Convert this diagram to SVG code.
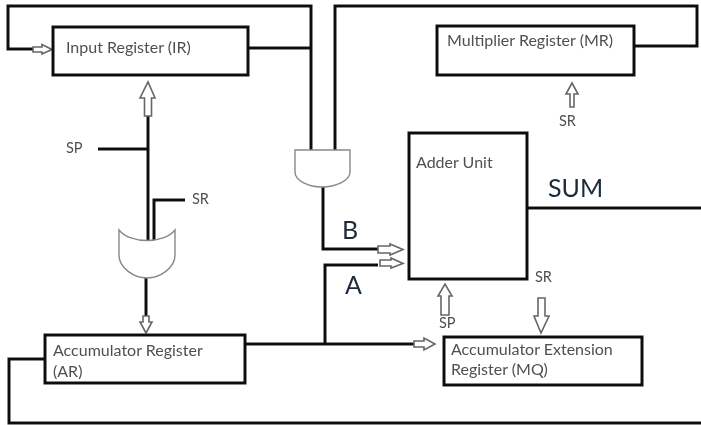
<svg xmlns="http://www.w3.org/2000/svg" width="701" height="425" viewBox="0 0 701 425">
<style>
.box{fill:#fff;stroke:#111;stroke-width:3}
.wire{fill:none;stroke:#111;stroke-width:3;stroke-linejoin:miter}
.hollow{fill:#fff;stroke:#666;stroke-width:1.6;stroke-linejoin:miter}
.gate{fill:#fff;stroke:#888;stroke-width:1.4}
.t{font-family:Lato,"Liberation Sans",sans-serif;font-size:14.500px;fill:#505050}
.n{font-family:Lato,"Liberation Sans",sans-serif;font-size:16px;fill:#505050}
.big{font-family:Lato,"Liberation Sans",sans-serif;font-size:25px;fill:#1a2a3a}
</style>
<defs><filter id="soft" x="-2%" y="-2%" width="104%" height="104%"><feGaussianBlur stdDeviation="0.45"/></filter></defs>
<g filter="url(#soft)">
<g id="connectors">
<path class="wire" d="M33 49H8V6H311V150"/>
<path class="wire" d="M248 48H311"/>
<path class="wire" d="M335 150V6H697V46H635"/>
<path class="wire" d="M323 187V249H378"/>
<path class="wire" d="M378 265H325V344"/>
<path class="wire" d="M245 344H414"/>
<path class="wire" d="M45 359H9V423H701"/>
<path class="wire" d="M527 208H701"/>
<path class="wire" d="M148 116V240"/>
<path class="wire" d="M98 149H148"/>
<path class="wire" d="M185 200H154V240"/>
<path class="wire" d="M146 278V316"/>
<path class="hollow" d="M33 47H42V44.500L52 49.500L42 54V52H33Z"/>
<path class="hollow" d="M144.500 116V98H140L148 82L155 98H151.500V116Z"/>
<path class="hollow" d="M570 107V94H566L572 83L578 94H574V107Z"/>
<path class="hollow" d="M378 246H390V244L403 249.500L390 255V253H378Z"/>
<path class="hollow" d="M380 260H391V258L403 263.500L391 268V266H380Z"/>
<path class="hollow" d="M414 341H424V338L435 344L424 350V347H414Z"/>
<path class="hollow" d="M143 316H149V322H152L146 333L140 322H143Z"/>
<path class="hollow" d="M441 315V296H438L445 284L452 296H449V315Z"/>
<path class="hollow" d="M538 298H545V316H549L541 333L534 316H538Z"/>
</g>
<g id="input-register"><rect class="box" x="53" y="27" width="195" height="48"/><text class="n" x="66" y="53">Input Register (IR)</text></g>
<g id="multiplier-register"><rect class="box" x="437" y="26" width="197" height="49"/><text class="n" x="447" y="46">Multiplier Register (MR)</text></g>
<g id="adder-unit"><rect class="box" x="409" y="133" width="118" height="146"/><text class="n" x="416" y="168">Adder Unit</text></g>
<g id="accumulator-register"><rect class="box" x="45" y="335" width="200" height="48"/><text class="n" x="53" y="356">Accumulator Register</text><text class="n" x="53" y="377">(AR)</text></g>
<g id="accumulator-extension"><rect class="box" x="444" y="337" width="198" height="48"/><text class="n" x="451" y="355">Accumulator Extension</text><text class="n" x="451" y="375">Register (MQ)</text></g>
<g id="and-gate"><path class="gate" d="M295 150H350V172C350 181 335 187 322 187C309 187 295 181 295 172Z"/></g>
<g id="or-gate"><path class="gate" d="M119 230C130 244 164 244 175 230V255C175 268 160 278 147 278C134 278 119 268 119 255Z"/></g>
<g id="labels">
<text class="t" x="66" y="153">SP</text>
<text class="t" x="192" y="204">SR</text>
<text class="t" x="559" y="126">SR</text>
<text class="t" x="535" y="282">SR</text>
<text class="t" x="439" y="328">SP</text>
<text class="big" x="548" y="197">SUM</text>
<text class="big" x="342" y="239">B</text>
<text class="big" x="345" y="294">A</text>
</g>
</g>
</svg>
